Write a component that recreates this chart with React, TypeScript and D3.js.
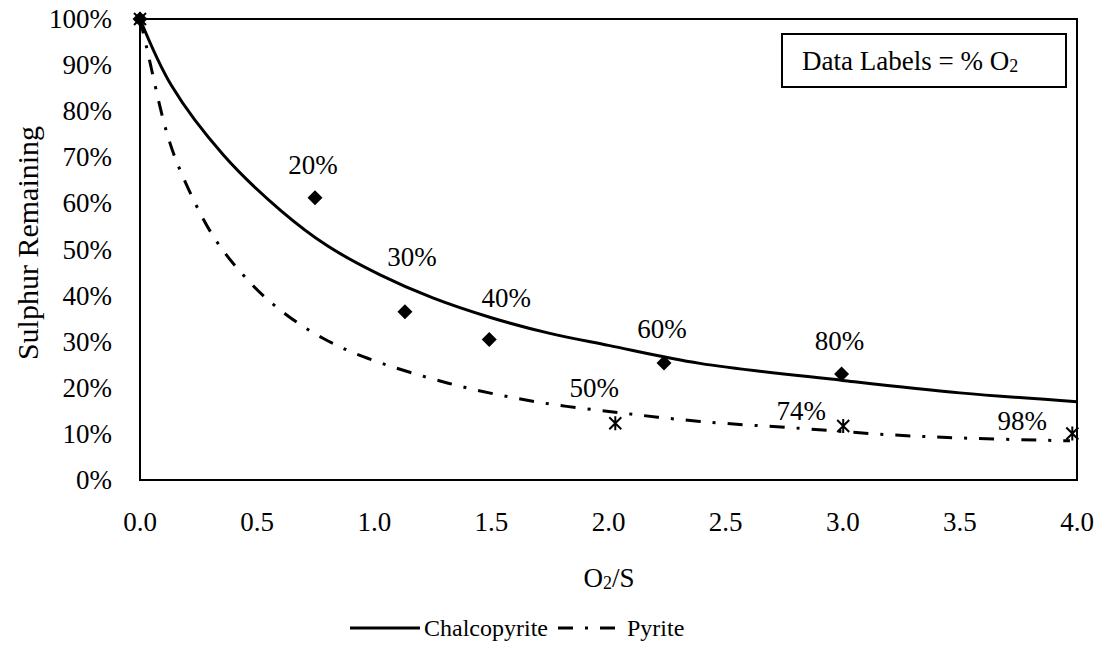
import React from "react";
import * as d3 from "d3";

// Measured points (O2/S ratio, fraction of sulphur remaining) with % O2 labels
const chalcoX = [0, 0.747, 1.131, 1.491, 2.237, 2.995];
const chalcoY = [1.0, 0.612, 0.365, 0.305, 0.254, 0.23];
const chalcoLabels = ["", "20%", "30%", "40%", "60%", "80%"];

const pyriteX = [0, 2.029, 3.002, 3.98];
const pyriteY = [1.0, 0.123, 0.117, 0.101];
const pyriteLabels = ["", "50%", "74%", "98%"];

// Trend curves traced through the plot
const chalcoTrendX = [0, 0.135, 0.356, 0.6, 0.8, 1.025, 1.25, 1.5, 1.75, 2.0, 2.39, 3.0, 3.5, 4.0];
const chalcoTrendY = [1.0, 0.855, 0.705, 0.585, 0.508, 0.445, 0.395, 0.352, 0.318, 0.292, 0.253, 0.216, 0.189, 0.17];

const pyriteTrendX = [0, 0.028, 0.114, 0.178, 0.32, 0.484, 0.626, 0.783, 0.956, 1.316, 1.686, 2.063, 2.391, 2.818, 3.202, 3.572, 3.97];
const pyriteTrendY = [1.0, 0.939, 0.754, 0.664, 0.523, 0.421, 0.358, 0.307, 0.267, 0.21, 0.17, 0.145, 0.127, 0.112, 0.098, 0.09, 0.085];

const xTicks = [0, 0.5, 1, 1.5, 2, 2.5, 3, 3.5, 4];
const yTicks = [0, 0.1, 0.2, 0.3, 0.4, 0.5, 0.6, 0.7, 0.8, 0.9, 1.0];

// Label nudges (px) relative to their marker
const chalcoLabelOffset: [number, number][] = [[0, 0], [-2, -33], [7, -55], [17, -41], [-2, -34], [-2, -33]];
const pyriteLabelOffset: [number, number][] = [[0, 0], [-21, -35], [-42, -15], [-50, -12]];

const W = 1103;
const H = 647;
const left = 140;
const right = 1077;
const top = 19;
const bottom = 480;
const FONT = "Liberation Serif";
const FS = 27;
const DASHDOT = "15 12 3 12";

export default function App() {
  const x = d3.scaleLinear().domain([0, 4]).range([left, right]);
  const y = d3.scaleLinear().domain([0, 1]).range([bottom, top]);

  const line = d3
    .line<[number, number]>()
    .x((d) => x(d[0]))
    .y((d) => y(d[1]))
    .curve(d3.curveCatmullRom.alpha(0.5));

  const chalcoPath = line(chalcoTrendX.map((v, i) => [v, chalcoTrendY[i]]) as [number, number][]) || "";
  const pyritePath = line(pyriteTrendX.map((v, i) => [v, pyriteTrendY[i]]) as [number, number][]) || "";

  const diamond = "M0,-7.5L7.5,0L0,7.5L-7.5,0Z";
  const star = "M-6,-6L6,6M-6,6L6,-6M0,-7V7";

  const textStyle: React.CSSProperties = { fontFamily: FONT, fontSize: FS };
  const legendStyle: React.CSSProperties = { fontFamily: FONT, fontSize: 24 };

  return (
    <svg
      width={W}
      height={H}
      style={{ position: "absolute", left: 0, top: 0, background: "#fff", fontFamily: FONT }}
    >
      <rect x={0} y={0} width={W} height={H} fill="#fff" />

      {/* y tick labels */}
      {yTicks.map((t) => (
        <text key={"y" + t} x={112} y={y(t)} textAnchor="end" dominantBaseline="central" style={textStyle}>
          {d3.format(".0%")(t)}
        </text>
      ))}

      {/* x tick labels */}
      {xTicks.map((t) => (
        <text key={"x" + t} x={x(t)} y={522} textAnchor="middle" dominantBaseline="central" style={textStyle}>
          {d3.format(".1f")(t)}
        </text>
      ))}

      {/* axis titles */}
      <text x={609} y={578} textAnchor="middle" dominantBaseline="central" style={textStyle}>
        O<tspan style={{ fontSize: 18 }} dy={5}>2</tspan>
        <tspan dy={-5}>/S</tspan>
      </text>
      <text
        transform={`translate(27,243) rotate(-90)`}
        textAnchor="middle"
        dominantBaseline="central"
        style={{ fontFamily: FONT, fontSize: 30 }}
      >
        Sulphur Remaining
      </text>

      {/* trend curves */}
      <path d={chalcoPath} fill="none" stroke="#000" strokeWidth={3} />
      <path d={pyritePath} fill="none" stroke="#000" strokeWidth={3} strokeDasharray={DASHDOT} />

      {/* plot frame */}
      <rect x={left} y={top} width={right - left} height={bottom - top} fill="none" stroke="#000" strokeWidth={2} />

      {/* markers */}
      {chalcoX.map((v, i) => (
        <path key={"cm" + i} d={diamond} transform={`translate(${x(v)},${y(chalcoY[i])})`} fill="#000" />
      ))}
      {pyriteX.map((v, i) => (
        <path
          key={"pm" + i}
          d={star}
          transform={`translate(${x(v)},${y(pyriteY[i])})`}
          fill="none"
          stroke="#000"
          strokeWidth={2}
        />
      ))}

      {/* data labels */}
      {chalcoX.map((v, i) =>
        chalcoLabels[i] ? (
          <text
            key={"cl" + i}
            x={x(v) + chalcoLabelOffset[i][0]}
            y={y(chalcoY[i]) + chalcoLabelOffset[i][1]}
            textAnchor="middle"
            dominantBaseline="central"
            style={textStyle}
          >
            {chalcoLabels[i]}
          </text>
        ) : null
      )}
      {pyriteX.map((v, i) =>
        pyriteLabels[i] ? (
          <text
            key={"pl" + i}
            x={x(v) + pyriteLabelOffset[i][0]}
            y={y(pyriteY[i]) + pyriteLabelOffset[i][1]}
            textAnchor="middle"
            dominantBaseline="central"
            style={textStyle}
          >
            {pyriteLabels[i]}
          </text>
        ) : null
      )}

      {/* note box */}
      <rect x={782} y={34} width={284} height={53} fill="#fff" stroke="#000" strokeWidth={2} />
      <text x={802} y={61} dominantBaseline="central" style={textStyle}>
        Data Labels = % O<tspan style={{ fontSize: 18 }} dy={5}>2</tspan>
      </text>

      {/* legend */}
      <line x1={350} x2={420} y1={628} y2={628} stroke="#000" strokeWidth={3} />
      <text x={424} y={628} dominantBaseline="central" style={legendStyle}>
        Chalcopyrite
      </text>
      <line x1={558} x2={620} y1={628} y2={628} stroke="#000" strokeWidth={3} strokeDasharray={DASHDOT} />
      <text x={627} y={628} dominantBaseline="central" style={legendStyle}>
        Pyrite
      </text>
    </svg>
  );
}
